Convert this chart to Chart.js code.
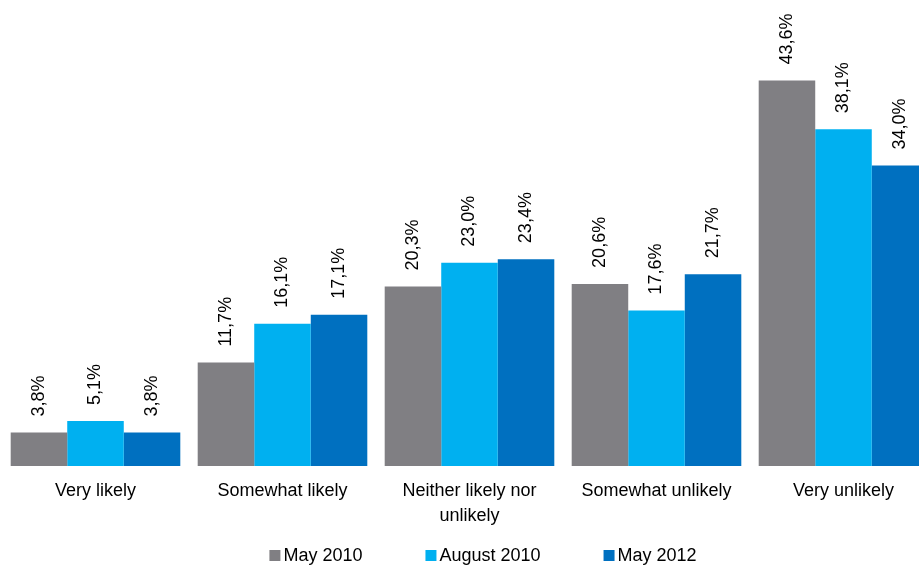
<!DOCTYPE html>
<html>
<head>
<meta charset="utf-8">
<script src="https://cdn.jsdelivr.net/npm/chart.js@4/dist/chart.umd.min.js"></script>
<style>
  html, body { margin: 0; padding: 0; background: #fff; overflow: hidden; width: 919px; height: 565px; }
  #wrap { width: 940px; height: 565px; }
</style>
</head>
<body>
<div id="wrap"><canvas id="c" width="940" height="565"></canvas></div>
<script>
// Survey answers, three waves
const categories = ['Very likely', 'Somewhat likely', ['Neither likely nor', 'unlikely'], 'Somewhat unlikely', 'Very unlikely'];
const seriesNames = ['May 2010', 'August 2010', 'May 2012'];
const may2010 = [3.8, 11.7, 20.3, 20.6, 43.6];
const aug2010 = [5.1, 16.1, 23.0, 17.6, 38.1];
const may2012 = [3.8, 17.1, 23.4, 21.7, 34.0];
const seriesColors = ['#807f83', '#00b0f0', '#0070c0'];

const fmt = v => v.toFixed(1).replace('.', ',') + '%';

// Rotated percentage labels above each bar
const valueLabels = {
  id: 'valueLabels',
  afterDatasetsDraw(chart, args, opts) {
    const ctx = chart.ctx;
    ctx.save();
    ctx.font = opts.font;
    ctx.fillStyle = opts.color;
    ctx.textAlign = 'left';
    ctx.textBaseline = 'middle';
    chart.data.datasets.forEach((ds, i) => {
      chart.getDatasetMeta(i).data.forEach((bar, j) => {
        ctx.save();
        ctx.translate(bar.x, bar.y - opts.offset);
        ctx.rotate(-Math.PI / 2);
        ctx.fillText(fmt(ds.data[j]), 0, 0);
        ctx.restore();
      });
    });
    ctx.restore();
  }
};

// Legend row with small square swatches under the axis labels
const bottomLegend = {
  id: 'bottomLegend',
  afterDraw(chart, args, opts) {
    const ctx = chart.ctx;
    ctx.save();
    ctx.font = opts.font;
    ctx.textBaseline = 'alphabetic';
    ctx.textAlign = 'left';
    const items = chart.data.datasets.map(d => ({
      text: d.label,
      color: d.backgroundColor,
      w: opts.box + opts.boxGap + ctx.measureText(d.label).width
    }));
    const total = items.reduce((s, it) => s + it.w, 0) + opts.itemGap * (items.length - 1);
    let x = opts.centerX - total / 2;
    items.forEach(it => {
      ctx.fillStyle = it.color;
      ctx.fillRect(x, opts.baseline - opts.box, opts.box, opts.box);
      ctx.fillStyle = opts.color;
      ctx.fillText(it.text, x + opts.box + opts.boxGap, opts.baseline);
      x += it.w + opts.itemGap;
    });
    ctx.restore();
  }
};

new Chart(document.getElementById('c'), {
  type: 'bar',
  data: {
    labels: categories,
    datasets: [
      { label: seriesNames[0], data: may2010, backgroundColor: seriesColors[0] },
      { label: seriesNames[1], data: aug2010, backgroundColor: seriesColors[1] },
      { label: seriesNames[2], data: may2012, backgroundColor: seriesColors[2] }
    ]
  },
  options: {
    responsive: false,
    animation: false,
    layout: { padding: { left: 2, right: 3, top: 24, bottom: 39 } },
    datasets: { bar: { categoryPercentage: 0.907, barPercentage: 1.0, borderWidth: 0 } },
    scales: {
      x: {
        grid: { display: false, drawTicks: false },
        border: { display: false },
        afterFit: s => { s.height = 60; },
        ticks: {
          color: '#000',
          padding: 13,
          maxRotation: 0,
          autoSkip: false,
          font: { family: '"Liberation Sans", Arial, sans-serif', size: 18, lineHeight: 1.38 }
        }
      },
      y: { display: false, min: 0, max: 50 }
    },
    plugins: {
      legend: { display: false },
      tooltip: { enabled: false },
      valueLabels: { font: '18px "Liberation Sans", Arial, sans-serif', color: '#000', offset: 16 },
      bottomLegend: { font: '18px "Liberation Sans", Arial, sans-serif', color: '#000', box: 11, boxGap: 3, itemGap: 63, centerX: 483, baseline: 561 }
    }
  },
  plugins: [valueLabels, bottomLegend]
});
</script>
</body>
</html>
